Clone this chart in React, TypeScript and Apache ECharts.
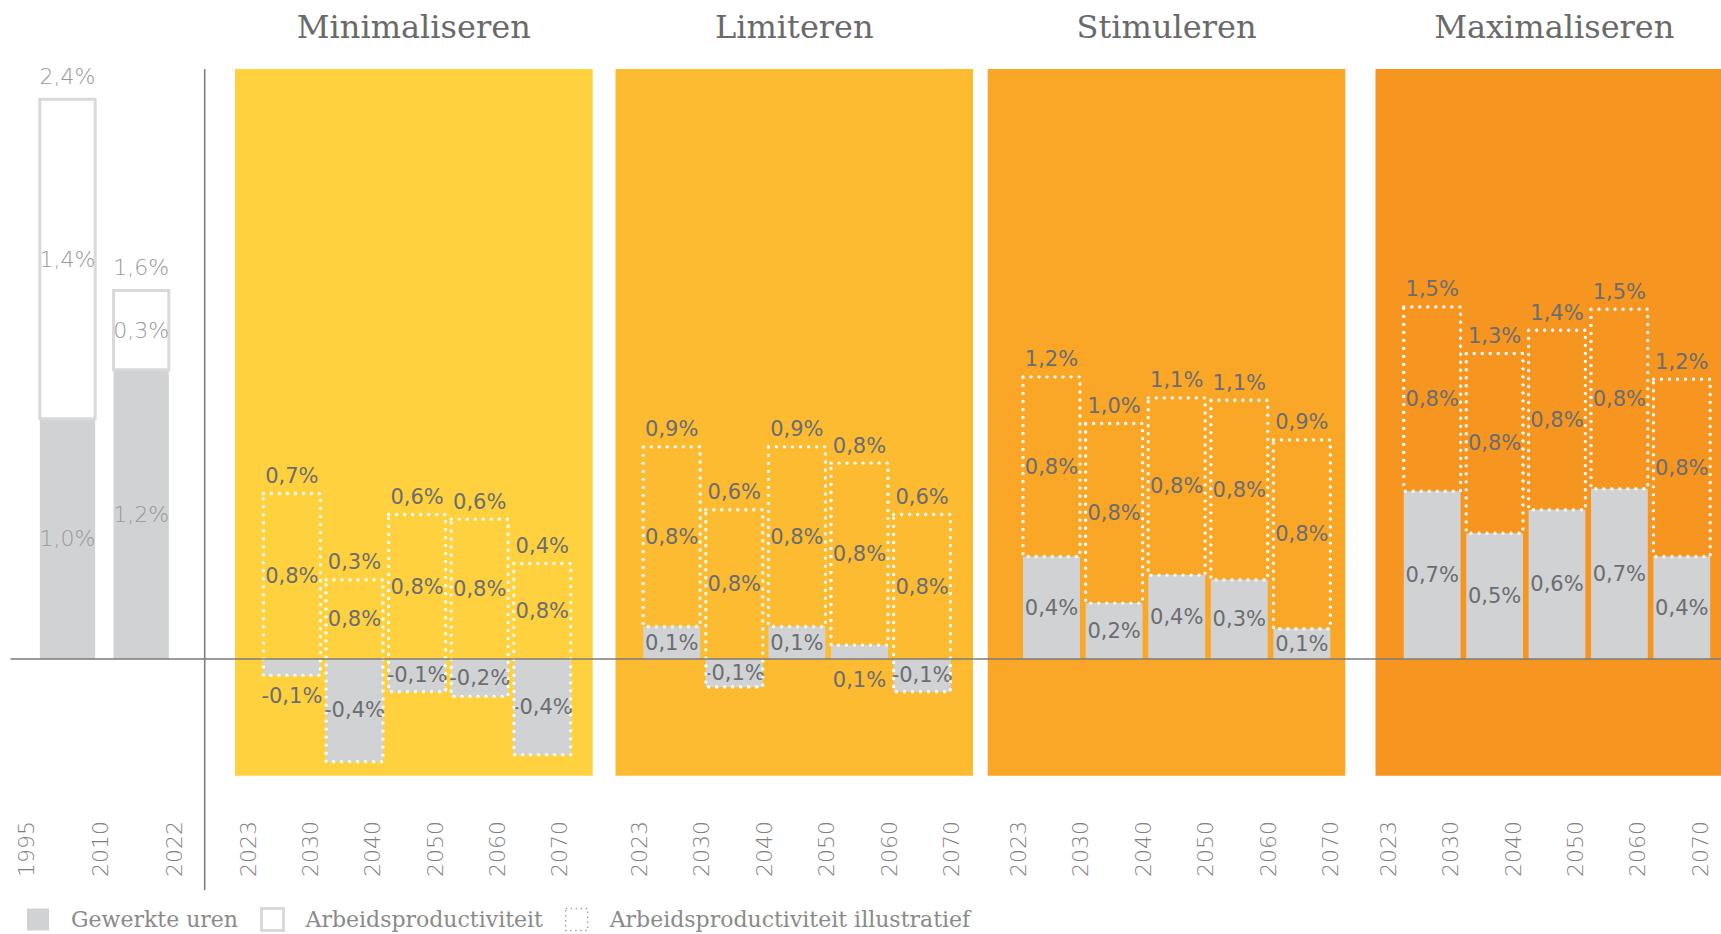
import React, { useEffect, useRef } from 'react';
import * as echarts from 'echarts';

// ---------- data ----------
const histYears = ['1995', '2010', '2022'];
const histUren = [1.03, 1.24];
const histProductiviteit = [1.37, 0.34];

const scenarioNames = ['Minimaliseren', 'Limiteren', 'Stimuleren', 'Maximaliseren'];
const scenarioYears = ['2023', '2030', '2040', '2050', '2060', '2070'];

const urenMinimaliseren = [-0.07, -0.44, -0.14, -0.16, -0.41];
const prodMinimaliseren = [0.78, 0.78, 0.76, 0.76, 0.82];
const urenLimiteren = [0.14, -0.12, 0.14, 0.06, -0.14];
const prodLimiteren = [0.77, 0.76, 0.77, 0.78, 0.76];
const urenStimuleren = [0.44, 0.24, 0.36, 0.34, 0.13];
const prodStimuleren = [0.77, 0.77, 0.76, 0.77, 0.81];
const urenMaximaliseren = [0.72, 0.54, 0.64, 0.73, 0.44];
const prodMaximaliseren = [0.79, 0.77, 0.77, 0.77, 0.76];

const scenarioUren = [urenMinimaliseren, urenLimiteren, urenStimuleren, urenMaximaliseren];
const scenarioProd = [prodMinimaliseren, prodLimiteren, prodStimuleren, prodMaximaliseren];

// ---------- layout / style ----------
const PLOT_TOP = 69;
const PLOT_HEIGHT = 706.7;
const Y_MIN = -0.5;
const Y_MAX = 2.53;
const LABEL_AXIS_Y = 813;
const GRAY = '#D1D2D4';

const HIST = { left: 11, right: 204.7, start: 30.65, pitch: 73.7, barFrac: 0.75, labelLeft: 26.65 };
const PANELS = [
  { left: 235, right: 592.7, start: 260.6, pitch: 62.6, labelLeft: 248.3, labelPitch: 62.3, color: '#FFD13E' },
  { left: 615.5, right: 973, start: 640.4, pitch: 62.6, labelLeft: 639.3, labelPitch: 62.5, color: '#FCBB31' },
  { left: 987.7, right: 1345.3, start: 1020.2, pitch: 62.6, labelLeft: 1018.5, labelPitch: 62.45, color: '#FAA627' },
  { left: 1375.5, right: 1721, start: 1401, pitch: 62.4, labelLeft: 1388.3, labelPitch: 62.35, color: '#F6951F' },
];
const PANEL_FULL_WIDTH = 357.6;
const BAR_FRAC = 0.91;

const histFont = { fontFamily: 'DejaVu Sans', fontWeight: 200, fontSize: 22, fill: '#999999' };
const scenFont = { fontFamily: 'DejaVu Sans', fontWeight: 'normal', fontSize: 21, fill: '#6b6d72' };

const fmt = (v: number) => (Math.round(v * 10) / 10).toFixed(1).replace('.', ',') + '%';

function urenRenderer(frac: number, font: any) {
  return (params: any, api: any) => {
    const x = api.value(0) as number;
    const v = api.value(1) as number;
    const bw = (api.size([1, 0]) as number[])[0] * frac;
    const p0 = api.coord([x, 0]);
    const p1 = api.coord([x, v]);
    const yTop = Math.min(p0[1], p1[1]);
    const yBot = Math.max(p0[1], p1[1]);
    const small = Math.abs(v) < 0.1;
    return {
      type: 'group',
      children: [
        { type: 'rect', shape: { x: p0[0] - bw / 2, y: yTop, width: bw, height: yBot - yTop }, style: { fill: GRAY } },
        {
          type: 'text',
          z2: 20,
          style: {
            text: fmt(v), x: p0[0], y: small ? yBot + 21 : (yTop + yBot) / 2,
            align: 'center', verticalAlign: 'middle', ...font,
          },
        },
      ],
    };
  };
}

function prodRenderer(frac: number, font: any, boxStyle: any, topGap: number) {
  return (params: any, api: any) => {
    const x = api.value(0) as number;
    const u = api.value(1) as number;
    const p = api.value(2) as number;
    const t = u + p;
    const bw = (api.size([1, 0]) as number[])[0] * frac;
    const pu = api.coord([x, u]);
    const pt = api.coord([x, t]);
    const pz = api.coord([x, 0]);
    const midY = (pt[1] + Math.min(pu[1], pz[1])) / 2;
    return {
      type: 'group',
      children: [
        { type: 'rect', shape: { x: pu[0] - bw / 2, y: pt[1], width: bw, height: pu[1] - pt[1] }, style: boxStyle },
        { type: 'text', z2: 20, style: { text: fmt(p), x: pu[0], y: midY, align: 'center', verticalAlign: 'middle', ...font } },
        { type: 'text', z2: 20, style: { text: fmt(t), x: pu[0], y: pt[1] - topGap, align: 'center', verticalAlign: 'middle', ...font } },
      ],
    };
  };
}

export default function App() {
  const ref = useRef<HTMLDivElement>(null);

  useEffect(() => {
    if (!ref.current) return;
    const chart = echarts.init(ref.current, undefined, { renderer: 'svg' });

    const grids: any[] = [];
    const xAxes: any[] = [];
    const yAxes: any[] = [];
    const series: any[] = [];

    const addY = (gi: number) => yAxes.push({ type: 'value', gridIndex: gi, min: Y_MIN, max: Y_MAX, show: false });

    // 0: base grid for the continuous zero line
    grids.push({ left: HIST.left, right: 0, top: PLOT_TOP, height: PLOT_HEIGHT, show: false, outerBoundsMode: 'none' });
    xAxes.push({
      type: 'value', gridIndex: 0, min: 0, max: 1, z: 10,
      axisLine: { show: true, onZero: true, lineStyle: { color: '#7b7b7b', width: 1.5 } },
      axisTick: { show: false }, axisLabel: { show: false }, splitLine: { show: false },
    });
    addY(0);

    // 1: historical bars
    grids.push({ left: HIST.left, width: HIST.right - HIST.left, top: PLOT_TOP, height: PLOT_HEIGHT, show: false, outerBoundsMode: 'none' });
    xAxes.push({
      type: 'value', gridIndex: 1, show: false,
      min: (HIST.left - HIST.start) / HIST.pitch, max: (HIST.right - HIST.start) / HIST.pitch,
    });
    addY(1);

    // 2..5: scenario panels
    PANELS.forEach((p, i) => {
      grids.push({
        left: p.left, width: p.right - p.left, top: PLOT_TOP, height: PLOT_HEIGHT,
        show: true, backgroundColor: p.color, borderWidth: 0, outerBoundsMode: 'none',
      });
      xAxes.push({
        type: 'value', gridIndex: 2 + i, show: false,
        min: (p.left - p.start) / p.pitch, max: (p.right - p.start) / p.pitch,
      });
      addY(2 + i);
    });

    const yearLabel = {
      rotate: 90, interval: 0, margin: 8, color: '#808080',
      fontFamily: 'DejaVu Sans', fontWeight: 200, fontSize: 22,
    };
    // 6: historical year labels
    grids.push({ left: HIST.labelLeft, width: 2 * HIST.pitch, top: PLOT_TOP, height: LABEL_AXIS_Y - PLOT_TOP, show: false, outerBoundsMode: 'none' });
    xAxes.push({
      type: 'category', gridIndex: 6, data: histYears, boundaryGap: false,
      axisLine: { show: false }, axisTick: { show: false }, splitLine: { show: false }, axisLabel: yearLabel,
    });
    addY(6);
    // 7..10: scenario year labels
    PANELS.forEach((p, i) => {
      grids.push({ left: p.labelLeft, width: 5 * p.labelPitch, top: PLOT_TOP, height: LABEL_AXIS_Y - PLOT_TOP, show: false, outerBoundsMode: 'none' });
      xAxes.push({
        type: 'category', gridIndex: 7 + i, data: scenarioYears, boundaryGap: false,
        axisLine: { show: false }, axisTick: { show: false }, splitLine: { show: false }, axisLabel: yearLabel,
      });
      addY(7 + i);
    });

    // series
    series.push({
      type: 'custom', name: 'Gewerkte uren', xAxisIndex: 1, yAxisIndex: 1, z: 2,
      itemStyle: { color: GRAY }, encode: { x: 0, y: 1 },
      data: histUren.map((v, i) => [i + 0.5, v]),
      renderItem: urenRenderer(HIST.barFrac, histFont),
    });
    series.push({
      type: 'custom', name: 'Arbeidsproductiviteit', xAxisIndex: 1, yAxisIndex: 1, z: 3,
      itemStyle: { color: '#ffffff', borderColor: '#d9d9d9' }, encode: { x: 0, y: 1 },
      data: histUren.map((u, i) => [i + 0.5, u, histProductiviteit[i]]),
      renderItem: prodRenderer(HIST.barFrac, histFont, { fill: '#ffffff', stroke: '#d9d9d9', lineWidth: 3 }, 23),
    });
    PANELS.forEach((p, i) => {
      series.push({
        type: 'custom', name: 'Gewerkte uren', xAxisIndex: 2 + i, yAxisIndex: 2 + i, z: 2,
        itemStyle: { color: GRAY }, encode: { x: 0, y: 1 },
        data: scenarioUren[i].map((v, j) => [j + 0.5, v]),
        renderItem: urenRenderer(BAR_FRAC, scenFont),
      });
      series.push({
        type: 'custom', name: 'Arbeidsproductiviteit illustratief', xAxisIndex: 2 + i, yAxisIndex: 2 + i, z: 3,
        itemStyle: { color: '#ffffff' }, encode: { x: 0, y: 1 },
        data: scenarioUren[i].map((u, j) => [j + 0.5, u, scenarioProd[i][j]]),
        renderItem: prodRenderer(
          BAR_FRAC, scenFont,
          { fill: 'none', stroke: '#ffffff', lineWidth: 3.4, lineDash: [0.01, 8], lineCap: 'round' },
          17.5,
        ),
      });
    });

    const option: any = {
      animation: false,
      grid: grids,
      xAxis: xAxes,
      yAxis: yAxes,
      series,
      legend: {
        left: 22, top: 902, itemWidth: 22, itemHeight: 22, itemGap: 22, icon: 'rect',
        formatter: (name: string) => '{pad| }' + name,
        textStyle: {
          fontFamily: 'DejaVu Serif', fontSize: 22, lineHeight: 24, color: '#8a8a8a',
          rich: { pad: { width: 17, lineHeight: 24 } },
        },
        data: [
          { name: 'Gewerkte uren', itemStyle: { color: GRAY } },
          { name: 'Arbeidsproductiviteit', itemStyle: { color: '#ffffff', borderColor: '#d9d9d9', borderWidth: 3 } },
          {
            name: 'Arbeidsproductiviteit illustratief',
            itemStyle: { color: '#ffffff', borderColor: '#a5a5a5', borderWidth: 1.5, borderType: [1.5, 3.5] },
          },
        ],
      },
      graphic: [
        ...scenarioNames.map((name, i) => ({
          type: 'text',
          x: PANELS[i].left + PANEL_FULL_WIDTH / 2,
          y: 27,
          style: {
            text: name, align: 'center', verticalAlign: 'middle', textAlign: 'center', textVerticalAlign: 'middle',
            fill: '#6a6a6a', fontFamily: 'DejaVu Serif', fontSize: 32,
          },
        })),
        {
          type: 'line',
          shape: { x1: HIST.right, y1: PLOT_TOP, x2: HIST.right, y2: 890 },
          style: { stroke: '#808080', lineWidth: 1.6 },
        },
      ],
    };

    chart.setOption(option);
    return () => chart.dispose();
  }, []);

  return <div ref={ref} style={{ position: 'absolute', left: 0, top: 0, width: 1721, height: 934 }} />;
}
